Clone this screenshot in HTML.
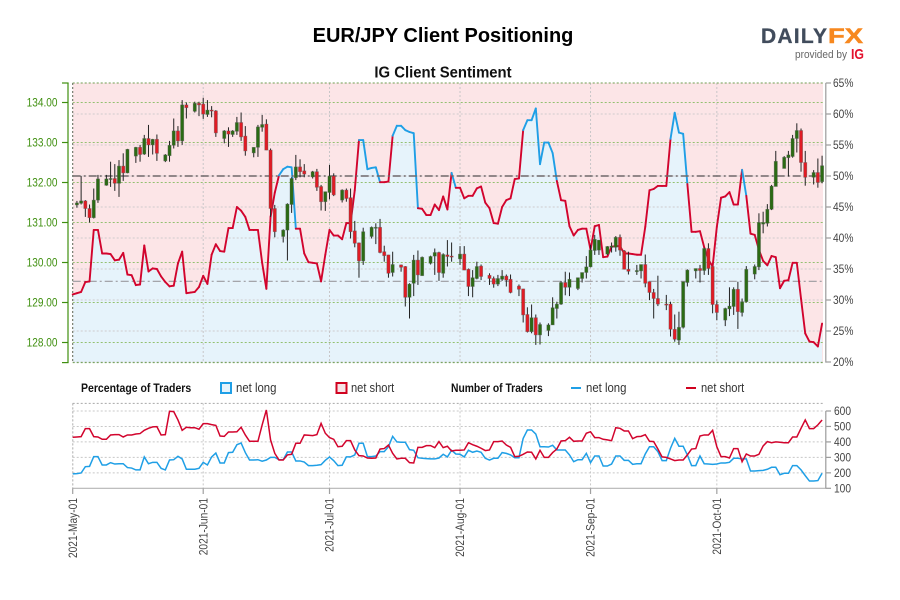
<!DOCTYPE html>
<html>
<head>
<meta charset="utf-8">
<title>EUR/JPY Client Positioning</title>
<style>
html,body{margin:0;padding:0;background:#fff;width:900px;height:600px;overflow:hidden}
svg{display:block}
text{font-family:"Liberation Sans",sans-serif}
</style>
</head>
<body>
<svg id="chart" xmlns="http://www.w3.org/2000/svg" width="900" height="600" viewBox="0 0 900 600">
  <rect x="0" y="0" width="900" height="600" fill="#fff"/>
  <text x="443" y="42" text-anchor="middle" font-size="20" font-weight="bold" fill="#000">EUR/JPY Client Positioning</text>
  <text transform="translate(443,77.5) scale(.96,1)" text-anchor="middle" font-size="15.5" font-weight="bold" fill="#111">IG Client Sentiment</text>

  <g>
    <text x="761" y="43" font-size="21" font-weight="bold" fill="#414c5c" stroke="#414c5c" stroke-width=".3" textLength="66" lengthAdjust="spacing">DAILY</text>
    <text x="828" y="43" font-size="21" font-weight="bold" fill="#f7881f" stroke="#f7881f" stroke-width=".5" textLength="35" lengthAdjust="spacingAndGlyphs">FX</text>
    <text x="795" y="58" font-size="11" fill="#666" textLength="52" lengthAdjust="spacingAndGlyphs">provided by</text>
    <text x="851" y="59" font-size="15" font-weight="bold" fill="#e3122d" textLength="13" lengthAdjust="spacingAndGlyphs">IG</text>
  </g>

  <g>
    <text transform="translate(81,392) scale(.875,1)" font-size="12" font-weight="bold" fill="#111">Percentage of Traders</text>
    <rect x="221" y="383" width="10" height="10" fill="#e6f3fb" stroke="#1f9fe6" stroke-width="2"/>
    <text transform="translate(236,392) scale(.91,1)" font-size="12.5" fill="#333">net long</text>
    <rect x="336.5" y="383" width="10" height="10" fill="#f6e3e6" stroke="#d0021f" stroke-width="2"/>
    <text transform="translate(351,392) scale(.89,1)" font-size="12.5" fill="#333">net short</text>
    <text transform="translate(451,392) scale(.86,1)" font-size="12" font-weight="bold" fill="#111">Number of Traders</text>
    <line x1="571" x2="581" y1="388" y2="388" stroke="#1f9fe6" stroke-width="2"/>
    <text transform="translate(586,392) scale(.91,1)" font-size="12.5" fill="#333">net long</text>
    <line x1="686" x2="696" y1="388" y2="388" stroke="#d0021f" stroke-width="2"/>
    <text transform="translate(701,392) scale(.89,1)" font-size="12.5" fill="#333">net short</text>
  </g>
</svg>
<script>
// ---------- chart data ----------
const monthDays = [0, 31, 61, 92, 123, 153];
const monthLabels = ['2021-May-01', '2021-Jun-01', '2021-Jul-01', '2021-Aug-01', '2021-Sep-01', '2021-Oct-01'];
const priceTicks = [134, 133, 132, 131, 130, 129, 128];
const percentTicks = [65, 60, 55, 50, 45, 40, 35, 30, 25, 20];
const traderTicks = [600, 500, 400, 300, 200, 100];
const neutralLevel = 50;
const lastPriceLevel = 129.53;

// daily IG sentiment, percent net long
const sentiment = [
30.9,31.1,31.3,32.9,33.0,41.3,41.3,37.5,37.5,37.4,
36.4,36.5,37.6,34.1,34.0,32.4,32.5,38.8,34.6,35.1,
35.0,33.8,32.9,32.2,32.3,35.9,37.8,31.1,31.2,31.3,
32.1,33.9,32.6,37.3,39.0,37.9,37.8,41.6,41.6,45.0,
44.4,43.4,41.3,41.3,41.3,36.0,31.8,43.4,47.3,50.1,
51.1,51.5,51.4,41.5,41.5,37.5,36.1,36.0,35.9,33.0,
37.3,41.3,40.4,40.4,39.8,42.4,42.4,47.7,55.8,55.8,
51.1,51.3,51.4,49.0,49.0,49.1,56.5,58.1,58.1,57.4,
57.1,56.9,44.8,44.7,43.7,43.7,45.4,44.5,46.7,44.6,
50.5,48.1,48.1,46.4,46.8,46.8,48.0,48.3,45.7,44.8,
42.4,42.3,45.0,46.1,46.4,49.5,49.6,57.4,59.0,59.0,
60.9,51.9,55.4,55.4,53.7,49.2,46.1,46.0,41.9,40.4,
41.3,41.5,41.5,38.1,41.9,42.1,36.9,37.0,38.6,38.7,
38.7,37.5,37.5,37.4,37.3,37.3,41.8,47.7,47.9,48.4,
48.4,48.4,56.0,60.2,57.0,56.8,48.7,41.0,41.0,41.1,
38.5,36.5,35.4,41.8,46.5,46.7,47.4,45.4,45.4,51.0,
46.8,40.7,40.5,38.1,36.3,35.6,37.1,36.9,31.9,33.1,
33.2,36.0,36.0,30.2,24.6,23.3,23.2,22.5,26.2
];

// daily trader counts
const netLongTraders = [
193,195,199,240,242,305,305,251,251,266,
257,259,259,234,231,219,219,303,259,268,
268,229,219,283,285,307,290,223,223,223,
229,268,251,303,328,264,264,331,333,382,
393,331,283,283,285,275,283,300,300,285,
285,335,335,277,277,270,247,247,249,253,
281,303,279,247,249,303,303,316,391,391,
305,305,309,337,337,369,436,400,398,398,
350,346,298,294,292,290,290,296,320,303,
346,322,320,303,346,333,341,333,294,283,
294,294,331,326,316,298,298,423,477,477,
451,369,369,367,378,348,348,348,316,272,
285,285,326,266,309,309,244,244,257,309,
309,281,281,255,259,259,322,369,369,337,
279,279,359,423,372,372,316,247,247,309,
259,257,255,257,264,264,268,294,294,290,
290,212,212,214,216,223,236,236,188,197,
197,247,247,219,182,147,147,150,197
];
const netShortTraders = [
430,432,434,486,486,434,432,417,417,445,
447,447,432,445,445,451,454,475,488,497,
499,445,447,598,596,542,475,495,492,492,
482,518,518,512,507,438,436,464,464,466,
495,445,404,404,404,510,607,413,326,283,
283,316,320,391,391,445,443,441,447,520,
456,428,417,369,372,408,408,348,311,309,
296,294,296,354,357,380,326,290,294,294,
266,264,365,365,376,376,363,402,363,372,
341,346,346,348,395,382,372,359,344,348,
402,402,406,380,365,305,307,320,335,333,
290,346,300,300,331,354,406,408,430,404,
406,406,456,466,428,428,417,413,408,492,
488,471,471,421,434,436,447,404,402,354,
303,300,290,279,283,283,316,354,357,438,
445,445,475,369,305,305,296,357,357,272,
322,309,309,320,374,402,395,400,398,395,
395,432,432,488,542,486,486,510,542
];

// EUR/JPY daily candles
const candleDays = [
1,2,3,4,5,6,8,9,10,11,12,13,15,16,17,18,19,20,22,23,24,25,26,27,29,30,31,32,33,34,
36,37,38,39,40,41,43,44,45,46,47,48,50,51,52,53,54,55,57,58,59,60,61,62,64,65,66,67,68,69,
71,72,73,74,75,76,78,79,80,81,82,83,85,86,87,88,89,90,92,93,94,95,96,97,99,100,101,102,103,104,
106,107,108,109,110,111,113,114,115,116,117,118,120,121,122,123,124,125,127,128,129,130,131,132,134,135,136,137,138,139,
141,142,143,144,145,146,148,149,150,151,152,153,155,156,157,158,159,160,162,163,164,165,166,167,169,170,171,172,173,174,
176,177,178
];
const opens = [
131.44,131.48,131.54,131.35,131.12,131.56,131.93,132.08,132.10,131.98,132.41,132.24,132.66,132.88,132.71,133.10,132.94,133.08,132.54,132.67,132.93,133.29,133.04,133.94,133.78,133.98,133.96,133.70,133.81,133.79,
133.10,133.29,133.20,133.28,133.50,133.16,132.74,132.88,133.38,133.46,132.81,131.35,130.65,130.81,131.45,132.12,132.39,132.29,132.14,132.27,131.90,131.52,131.75,132.16,131.56,131.81,131.62,130.79,130.49,130.04,
130.65,130.86,130.88,130.27,130.19,129.75,129.94,129.90,129.13,129.48,130.06,129.67,129.98,130.16,130.25,129.73,130.19,130.16,130.09,130.21,129.83,129.40,129.60,129.91,129.68,129.60,129.46,129.58,129.66,129.58,
129.41,129.34,128.70,128.27,128.62,128.19,128.30,128.44,128.85,128.96,129.50,129.38,129.35,129.60,129.75,129.89,130.30,130.31,130.21,130.38,130.38,130.63,130.29,129.83,129.77,129.79,129.95,129.52,129.25,129.10,
128.96,128.96,128.33,128.06,128.38,129.50,129.79,129.85,129.80,130.35,129.90,128.95,128.56,128.84,128.90,129.33,128.75,129.02,129.71,129.89,130.96,130.98,131.33,131.90,132.35,132.62,132.65,133.10,133.30,132.50,
132.13,132.25,132.02
];
const highs = [
131.54,132.16,131.56,131.45,131.85,132.19,132.19,132.52,132.46,132.56,132.73,132.84,132.89,132.94,133.19,133.44,133.09,133.20,132.71,133.04,133.60,133.41,134.06,134.00,134.02,134.02,134.12,134.06,133.91,133.81,
133.31,133.38,133.31,133.64,133.75,133.41,132.88,133.44,133.69,133.58,132.85,131.44,130.83,131.48,132.13,132.69,132.58,132.46,132.29,132.34,131.94,131.77,132.44,132.23,131.83,131.85,131.85,131.04,130.50,130.87,
130.90,130.98,131.09,130.42,130.19,130.27,129.95,129.91,129.48,130.19,130.30,130.15,130.17,130.35,130.27,130.23,130.56,130.50,130.41,130.41,129.85,129.81,130.02,129.95,129.73,129.65,129.69,129.81,129.70,129.70,
129.45,129.34,128.88,128.95,128.70,128.50,128.48,129.13,129.02,129.54,129.77,129.75,129.62,129.75,130.16,130.44,130.69,130.56,130.41,130.50,130.66,130.70,130.31,130.27,129.94,129.95,130.20,129.52,129.34,129.67,
129.19,129.02,128.70,128.77,129.52,129.83,129.85,129.94,130.37,130.48,129.90,129.05,128.87,129.38,129.38,129.52,129.10,129.91,129.95,131.23,131.27,131.46,131.94,132.79,132.66,132.79,133.19,133.48,133.35,132.79,
132.31,132.60,132.67
];
const lows = [
131.37,131.45,131.14,131.00,131.10,131.49,131.92,131.89,131.79,131.64,132.04,132.23,132.49,132.52,132.69,132.64,132.70,132.54,132.51,132.52,132.85,132.89,132.94,133.60,133.75,133.66,133.59,133.64,133.63,133.14,
132.98,132.89,133.14,133.19,133.04,132.67,132.63,132.64,133.27,132.81,131.14,130.63,130.50,130.05,131.24,132.06,132.13,132.13,132.10,131.79,131.30,131.29,131.58,131.66,131.50,131.52,130.60,130.38,129.62,129.94,
130.60,130.46,130.23,130.02,129.62,129.65,129.77,128.90,128.60,129.16,129.44,129.67,129.95,129.69,129.54,129.62,129.90,130.02,129.94,129.81,129.16,129.13,129.58,129.56,129.44,129.37,129.41,129.54,129.40,129.23,
129.16,128.50,128.25,128.23,127.94,127.95,128.16,128.44,128.60,128.94,129.18,129.16,129.31,129.50,129.60,129.88,130.19,130.19,130.19,130.25,130.27,130.17,129.83,129.70,129.69,129.60,129.38,129.06,128.60,128.91,
128.81,128.15,128.02,127.94,128.35,129.40,129.60,129.50,129.69,129.69,128.73,128.56,128.41,128.66,128.69,128.34,128.65,129.00,129.58,129.81,130.73,130.90,131.31,131.90,132.35,132.15,132.62,132.75,132.27,131.92,
131.95,131.87,131.98
];
const closes = [
131.49,131.54,131.35,131.12,131.56,132.09,132.09,132.10,131.98,132.41,132.24,132.83,132.88,132.70,133.10,132.94,133.08,132.73,132.69,132.93,133.29,133.04,133.94,133.87,133.98,133.94,133.71,133.81,133.79,133.24,
133.29,133.21,133.29,133.50,133.14,132.79,132.88,133.39,133.45,132.81,131.35,130.77,130.81,131.46,132.10,132.39,132.27,132.21,132.27,131.88,131.52,131.77,132.16,131.69,131.81,131.60,130.77,130.48,130.04,130.77,
130.88,130.88,130.25,130.17,129.73,129.95,129.88,129.13,129.46,130.06,129.69,130.13,130.15,130.25,129.75,130.20,130.15,130.15,130.21,129.81,129.40,129.62,129.90,129.65,129.60,129.46,129.60,129.66,129.56,129.25,
129.33,128.69,128.27,128.62,128.19,128.45,128.44,128.87,128.96,129.50,129.38,129.58,129.62,129.75,129.89,130.31,130.58,130.56,130.40,130.41,130.63,130.31,129.83,129.78,129.80,129.95,129.48,129.25,129.10,128.96,
128.94,128.33,128.08,128.38,129.52,129.81,129.85,129.80,130.35,129.85,128.95,128.75,128.85,128.91,129.33,128.77,129.02,129.83,129.90,131.00,131.00,131.33,131.91,132.53,132.63,132.69,133.10,133.30,132.50,132.13,
132.25,132.00,132.42
];

// ---------- scales ----------
const plotLeft = 72.7, plotRight = 823, upperTop = 83, upperBottom = 362.6;
const lowerTop = 403.4, lowerBottom = 488.3;
const xDay = d => plotLeft + 4.21 * d;
const yPrice = p => 102.5 + (134 - p) * 40;
const yPct = v => 176 + (50 - v) * 6.2;
const yTraders = v => lowerBottom - (v - 100) * 0.1546;

const RED = '#d2042d', BLUE = '#1f9fe6', PINK = '#fce5e7', SKY = '#e6f3fb';
const svg = document.getElementById('chart');
function mk(tag, attrs, parent) {
  const el = document.createElementNS('http://www.w3.org/2000/svg', tag);
  for (const k in attrs) el.setAttribute(k, attrs[k]);
  (parent || svg).appendChild(el);
  return el;
}
function line(x1, y1, x2, y2, stroke, width, dash, parent) {
  const attrs = {x1, y1, x2, y2, stroke, 'stroke-width': width};
  if (dash) attrs['stroke-dasharray'] = dash;
  return mk('line', attrs, parent);
}

// ---------- upper panel ----------
const upper = mk('g', {});



const upperBg = mk('rect', {x: plotLeft, y: upperTop, width: plotRight - plotLeft, height: upperBottom - upperTop, fill: PINK}, upper);



const areaPts = sentiment.map((v, i) => xDay(i).toFixed(2) + ',' + yPct(v).toFixed(2));
areaPts.unshift(xDay(0).toFixed(2) + ',' + upperBottom);
areaPts.push(xDay(sentiment.length - 1).toFixed(2) + ',' + upperBottom);
const area = mk('polygon', {points: areaPts.join(' '), fill: SKY}, upper);



percentTicks.forEach(v => {
  const g = line(plotLeft, yPct(v), plotRight, yPct(v), '#cfcbcd', 1, '2 2', upper);
  
  
});
monthDays.forEach(d => {
  const g = line(xDay(d), upperTop, xDay(d), upperBottom, '#c8c6c8', 1, '2 2', upper);
  
  
});
priceTicks.forEach(p => {
  const g = line(plotLeft, yPrice(p), plotRight, yPrice(p), '#93c070', 1, '2 2', upper);
  
  
});
[upperTop, upperBottom].forEach(y => {
  const g = line(plotLeft, y, plotRight, y, '#6f9f50', 1, '2 2', upper);
  
  
});
const upperLeftEdge = line(plotLeft, upperTop, plotLeft, upperBottom, '#666f5c', 1, '2 2', upper);



const lastLine = line(plotLeft, yPrice(lastPriceLevel), plotRight, yPrice(lastPriceLevel), '#9a9a9f', 1.2, '8 3 2 3', upper);



for (let i = 0; i < sentiment.length - 1; i++) {
  const seg = line(xDay(i), yPct(sentiment[i]), xDay(i + 1), yPct(sentiment[i + 1]), sentiment[i] >= neutralLevel ? BLUE : RED, 1.9, null, upper);
  seg.setAttribute('stroke-linecap', 'round');
  
  
}

const neutralLine = line(plotLeft, yPct(neutralLevel), plotRight, yPct(neutralLevel), '#6e686a', 1.4, '8 3 2 3', upper);



candleDays.forEach((d, i) => {
  const x = xDay(d);
  const o = opens[i], c = closes[i];
  const up = c >= o;
  const g = mk('g', {}, upper);
  
  
  const wick = line(x, yPrice(highs[i]), x, yPrice(lows[i]), '#222', 1, null, g);
  
  
  const top = yPrice(Math.max(o, c));
  const h = Math.max(Math.abs(yPrice(o) - yPrice(c)), 1);
  const body = mk('rect', {x: x - 1.6, y: top, width: 3.2, height: h, fill: up ? '#2b6b14' : '#e01b24', stroke: 'rgba(90,90,90,.5)', 'stroke-width': .7}, g);
  
  
});

// price axis (left)
const priceAxis = mk('g', {});


const GREEN = '#3f8f0f';
const priceSpine = line(68, upperTop, 68, upperBottom, GREEN, 1.2, null, priceAxis);


[upperTop, upperBottom].forEach(y => {
  const t = line(62, y, 68.6, y, GREEN, 1.2, null, priceAxis);
  
  
});
priceTicks.forEach(p => {
  const t = line(62, yPrice(p), 68, yPrice(p), GREEN, 1.2, null, priceAxis);
  
  
  const lbl = mk('text', {transform: 'translate(57.5,' + (yPrice(p) + 4.2) + ') scale(.84,1)', 'text-anchor': 'end', 'font-size': 12, fill: GREEN}, priceAxis);
  lbl.textContent = p.toFixed(2);
  
  
});

// percent axis (right)
const pctAxis = mk('g', {});


const pctSpine = line(825.8, upperTop, 825.8, upperBottom, '#9b9b9b', 1.2, null, pctAxis);


percentTicks.forEach(v => {
  const t = line(825.8, yPct(v), 831, yPct(v), '#9b9b9b', 1.2, null, pctAxis);
  
  
  const lbl = mk('text', {transform: 'translate(833,' + (yPct(v) + 4.2) + ') scale(.85,1)', 'font-size': 12, fill: '#444'}, pctAxis);
  lbl.textContent = v + '%';
  
  
});

// ---------- lower panel ----------
const lower = mk('g', {});


traderTicks.slice(0, 5).forEach(v => {
  const g = line(plotLeft, yTraders(v), plotRight, yTraders(v), '#c8c8c8', 1, '2 2', lower);
  
  
});
const lowerTopEdge = line(plotLeft, lowerTop, plotRight, lowerTop, '#a8a8a8', 1, '2 2', lower);


const lowerLeftEdge = line(plotLeft, lowerTop, plotLeft, lowerBottom, '#909090', 1, '2 2', lower);


monthDays.forEach(d => {
  const g = line(xDay(d), lowerTop, xDay(d), lowerBottom, '#c8c8c8', 1, '2 2', lower);
  
  
});
const lowerBase = line(plotLeft, lowerBottom, 826, lowerBottom, '#b5b5b5', 1.2, null, lower);



const longPath = mk('polyline', {points: netLongTraders.map((v, i) => xDay(i).toFixed(2) + ',' + yTraders(v).toFixed(2)).join(' '), fill: 'none', stroke: BLUE, 'stroke-width': 1.5}, lower);


const shortPath = mk('polyline', {points: netShortTraders.map((v, i) => xDay(i).toFixed(2) + ',' + yTraders(v).toFixed(2)).join(' '), fill: 'none', stroke: RED, 'stroke-width': 1.5}, lower);



// traders axis (right)
const tradersSpine = line(825.8, yTraders(600), 825.8, lowerBottom, '#9b9b9b', 1.2, null, lower);


traderTicks.forEach(v => {
  const t = line(825.8, yTraders(v), 831, yTraders(v), '#9b9b9b', 1.2, null, lower);
  
  
  const lbl = mk('text', {transform: 'translate(834,' + (yTraders(v) + 4.2) + ') scale(.85,1)', 'font-size': 12, fill: '#444'}, lower);
  lbl.textContent = v;
  
  
});

// date axis
monthDays.forEach((d, i) => {
  const t = line(xDay(d), lowerBottom, xDay(d), 494, '#a0a0a0', 1.2, null, lower);
  
  
  const lbl = mk('text', {transform: 'translate(' + (xDay(d) + 4.2) + ',498) rotate(-90) scale(.85,1)', 'text-anchor': 'end', 'font-size': 12, fill: '#444'}, lower);
  lbl.textContent = monthLabels[i];
  
  
});
</script>
</body>
</html>
